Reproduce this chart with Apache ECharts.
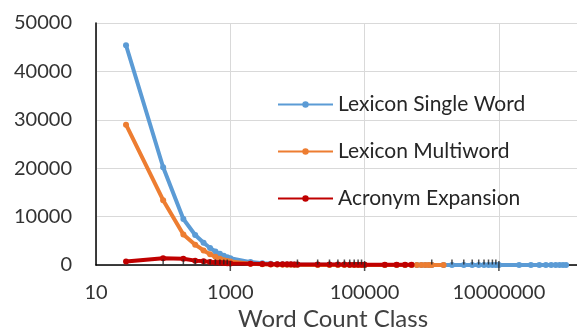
<!DOCTYPE html>
<html>
<head>
<meta charset="utf-8">
<script src="https://cdn.jsdelivr.net/npm/echarts@6/dist/echarts.min.js"></script>
<style>
html,body{margin:0;padding:0;background:#fff;}
#c{width:577px;height:329px;}
</style>
</head>
<body>
<div id="c"></div>
<script>
// Word count classes (x values)
const wordCountClasses = [28,
  100, 200, 300, 400, 500, 600, 700, 800, 900,
  1000, 2000, 3000, 4000, 5000, 6000, 7000, 8000, 9000,
  10000, 20000, 30000, 40000, 50000, 60000, 70000, 80000, 90000,
  100000, 200000, 300000, 400000, 500000, 600000, 700000, 800000, 900000,
  1000000, 1500000, 2000000, 3000000, 4000000, 5000000, 6000000, 7000000, 8000000, 9000000,
  10000000, 20000000, 30000000, 40000000, 50000000, 60000000, 70000000, 80000000, 90000000,
  100000000];
const lexiconSingleWord = [45400,
  20200, 9500, 6200, 4600, 3500, 2800, 2300, 1900, 1600,
  1400, 600, 350, 250, 180, 140, 110, 90, 80,
  70, 60, 50, 45, 40, 35, 30, 28, 25,
  22, 20, 18, 16, 15, 14, 13, 12, 11,
  10, 9, 9, 8, 8, 7, 7, 6, 6, 5,
  5, 5, 4, 4, 4, 3, 3, 3, 3,
  2];
const lexiconMultiword = [29000,
  13400, 6300, 4200, 3000, 2200, 1700, 1300, 1000, 850,
  700, 250, 150, 100, 80, 60, 50, 40, 35,
  30, 25, 20, 18, 15, 12, 10, 9, 8,
  7, 6, 5, 5, 4, 4, 3, 3, 3,
  2, 2, null, null, null, null, null, null, null, null,
  null, null, null, null, null, null, null, null, null,
  null];
const acronymExpansion = [700,
  1400, 1300, 900, 800, 600, 500, 450, 400, 350,
  300, 250, 200, 180, 160, 150, 140, 130, 120,
  110, 100, 90, 80, 80, 70, 70, 60, 60,
  50, 50, 40, 40, 30, null, null, null, null,
  null, null, null, null, null, null, null, null, null, null,
  null, null, null, null, null, null, null, null, null,
  null];
const seriesNames = ['Lexicon Single Word', 'Lexicon Multiword', 'Acronym Expansion'];
const yTicks = [0, 10000, 20000, 30000, 40000, 50000];
const xLabelValues = [10, 1000, 100000, 10000000];
const majorTickValues = [1000, 100000, 10000000];
const minorTickValues = [100, 200, 300, 400, 500, 600, 700, 800, 900,
  10000, 20000, 30000, 40000, 50000, 60000, 70000, 80000, 90000,
  1000000, 2000000, 3000000, 4000000, 5000000, 6000000, 7000000, 8000000, 9000000];

function pairs(ys) {
  const out = [];
  ys.forEach((y, i) => { if (y !== null) out.push([wordCountClasses[i], y]); });
  return out;
}

const colors = ['#5b9bd5', '#ed7d31', '#c00000'];
const font = 'Lato, "Open Sans", sans-serif';

const chart = echarts.init(document.getElementById('c'), null, {renderer: 'canvas'});
const lineSeries = [lexiconSingleWord, lexiconMultiword, acronymExpansion].map((ys, i) => ({
  name: seriesNames[i],
  type: 'line',
  data: pairs(ys),
  symbol: 'circle',
  symbolSize: 6,
  showSymbol: true,
  lineStyle: {width: 4, color: colors[i]},
  itemStyle: {color: colors[i]},
  z: 3 + i
}));

chart.setOption({
  animation: false,
  grid: {left: 96, top: 23, bottom: 64, right: 0, containLabel: false},
  legend: {
    data: seriesNames,
    orient: 'vertical',
    left: 277,
    top: 94,
    padding: 0,
    itemGap: 26,
    itemWidth: 55,
    itemHeight: 8,
    textStyle: {fontFamily: font, fontSize: 21, color: '#262626'}
  },
  graphic: [{
    type: 'text',
    x: 333,
    y: 307,
    style: {text: 'Word Count Class', font: '24px ' + font, fill: '#404040', textAlign: 'center'}
  }],
  xAxis: {
    type: 'log',
    logBase: 10,
    min: 10,
    max: 145500000,
    interval: 1,
    axisLine: {show: true, lineStyle: {color: '#000', width: 1.5}},
    axisTick: {show: false},
    axisLabel: {
      margin: 18,
      fontFamily: font, fontSize: 20, color: '#333',
      showMaxLabel: false,
      formatter: v => { const r = Math.round(v); return xLabelValues.indexOf(r) >= 0 ? String(r) : ''; }
    },
    splitLine: {show: true, showMinLine: true, showMaxLine: false, lineStyle: {color: ['#d9d9d9', 'rgba(0,0,0,0)'], width: 1}}
  },
  yAxis: {
    type: 'value',
    min: yTicks[0],
    max: yTicks[yTicks.length - 1],
    interval: 10000,
    axisLine: {show: true, lineStyle: {color: '#000', width: 1.5}},
    axisTick: {show: false},
    axisLabel: {margin: 24, fontFamily: font, fontSize: 20, color: '#333', formatter: v => String(v)},
    splitLine: {show: true, lineStyle: {color: '#d9d9d9', width: 1}}
  },
  series: lineSeries.concat([
    {
      name: 'minorTicks', type: 'scatter', data: minorTickValues.map(v => [v, 0]),
      symbol: 'rect', symbolSize: [1.5, 5], symbolOffset: [0, -3],
      itemStyle: {color: '#222'}, z: 10, silent: true
    },
    {
      name: 'majorTicks', type: 'scatter', data: majorTickValues.map(v => [v, 0]),
      symbol: 'rect', symbolSize: [1.5, 10], symbolOffset: [0, 1],
      itemStyle: {color: '#222'}, z: 10, silent: true
    }
  ])
});
</script>
</body>
</html>
